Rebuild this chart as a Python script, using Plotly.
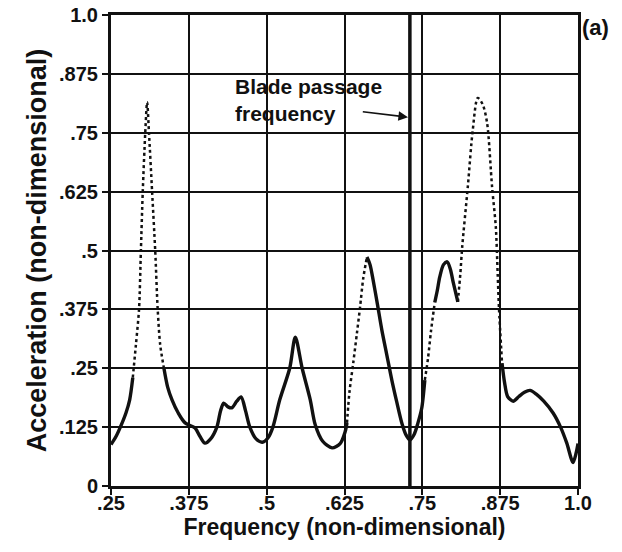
import plotly.graph_objects as go

# ---- data ----
# solid / dotted segments of the acceleration spectrum
seg_a_x = [0.250, 0.258, 0.265, 0.274, 0.280, 0.285]
seg_a_y = [0.088, 0.105, 0.125, 0.155, 0.183, 0.230]

seg_b_x = [0.285, 0.290, 0.295, 0.298, 0.301, 0.305, 0.308, 0.311, 0.316, 0.321, 0.325, 0.329, 0.335]
seg_b_y = [0.230, 0.300, 0.375, 0.500, 0.625, 0.750, 0.815, 0.750, 0.625, 0.500, 0.375, 0.300, 0.250]

seg_c_x = [0.335, 0.341, 0.348, 0.358, 0.369, 0.385, 0.393, 0.401, 0.410, 0.420, 0.426, 0.431,
           0.438, 0.444, 0.452, 0.459, 0.466, 0.473, 0.483, 0.493, 0.502, 0.510, 0.521, 0.537,
           0.546, 0.557, 0.570, 0.578, 0.590, 0.605, 0.618, 0.626, 0.629]
seg_c_y = [0.250, 0.210, 0.183, 0.155, 0.134, 0.123, 0.105, 0.091, 0.100, 0.125, 0.160, 0.176,
           0.168, 0.166, 0.180, 0.189, 0.160, 0.125, 0.100, 0.093, 0.102, 0.125, 0.183, 0.250,
           0.316, 0.250, 0.183, 0.130, 0.095, 0.081, 0.090, 0.115, 0.134]

seg_d_x = [0.629, 0.633, 0.639, 0.645, 0.650, 0.655, 0.661]
seg_d_y = [0.134, 0.200, 0.261, 0.325, 0.380, 0.440, 0.486]

seg_e_x = [0.661, 0.666, 0.671, 0.678, 0.685, 0.693, 0.701, 0.709, 0.717, 0.724, 0.730, 0.737,
           0.743, 0.749, 0.754]
seg_e_y = [0.486, 0.470, 0.437, 0.385, 0.331, 0.278, 0.225, 0.178, 0.134, 0.108, 0.098, 0.110,
           0.134, 0.165, 0.225]

seg_f_x = [0.754, 0.759, 0.764, 0.770]
seg_f_y = [0.225, 0.270, 0.330, 0.390]

seg_g_x = [0.770, 0.774, 0.778, 0.784, 0.790, 0.795, 0.800, 0.807]
seg_g_y = [0.390, 0.415, 0.444, 0.470, 0.476, 0.460, 0.430, 0.391]

seg_h_x = [0.807, 0.811, 0.814, 0.823, 0.831, 0.839, 0.847, 0.854, 0.862, 0.868, 0.871, 0.873, 0.878]
seg_h_y = [0.391, 0.450, 0.507, 0.635, 0.756, 0.824, 0.810, 0.771, 0.635, 0.550, 0.450, 0.380, 0.261]

seg_i_x = [0.878, 0.882, 0.887, 0.896, 0.905, 0.914, 0.923, 0.933, 0.945, 0.960, 0.972, 0.982,
           0.992, 0.997, 1.000]
seg_i_y = [0.261, 0.220, 0.190, 0.180, 0.190, 0.199, 0.203, 0.195, 0.180, 0.155, 0.125, 0.091,
           0.050, 0.070, 0.090]

blade_passage_freq = 0.730

x_tickvals = [0.25, 0.375, 0.5, 0.625, 0.75, 0.875, 1.0]
x_ticktext = [".25", ".375", ".5", ".625", ".75", ".875", "1.0"]
y_tickvals = [0, 0.125, 0.25, 0.375, 0.5, 0.625, 0.75, 0.875, 1.0]
y_ticktext = ["0", ".125", ".25", ".375", ".5", ".625", ".75", ".875", "1.0"]

# ---- figure ----
FONT = "Liberation Sans, Arial, Helvetica, sans-serif"
INK = "#111111"

segments = [
    (seg_a_x, seg_a_y, "solid"),
    (seg_b_x, seg_b_y, "dot"),
    (seg_c_x, seg_c_y, "solid"),
    (seg_d_x, seg_d_y, "dot"),
    (seg_e_x, seg_e_y, "solid"),
    (seg_f_x, seg_f_y, "dot"),
    (seg_g_x, seg_g_y, "solid"),
    (seg_h_x, seg_h_y, "dot"),
    (seg_i_x, seg_i_y, "solid"),
]

fig = go.Figure()
for xs, ys, style in segments:
    solid = style == "solid"
    fig.add_trace(go.Scatter(
        x=xs, y=ys, mode="lines",
        line=dict(color=INK, width=3.4 if solid else 2.5,
                  dash="solid" if solid else "3px,3px",
                  shape="spline", smoothing=0.8),
        showlegend=False, hoverinfo="skip",
    ))

# blade passage frequency marker line
fig.add_shape(type="line", xref="x", yref="y",
              x0=blade_passage_freq, x1=blade_passage_freq, y0=0, y1=1.0,
              line=dict(color=INK, width=3.5))

fig.add_annotation(x=0.446, y=0.820, xref="x", yref="y",
                   text="Blade passage<br>frequency", showarrow=False,
                   xanchor="left", yanchor="middle", align="left",
                   font=dict(family=FONT, size=21, color=INK, weight="bold"))
fig.add_annotation(x=blade_passage_freq - 0.003, y=0.783, xref="x", yref="y",
                   ax=0.652, ay=0.795, axref="x", ayref="y",
                   text="", showarrow=True, arrowhead=2, arrowsize=1.2,
                   arrowwidth=1.6, arrowcolor=INK)
fig.add_annotation(x=1.0, y=1.0, xref="paper", yref="paper",
                   text="(a)", showarrow=False, xanchor="left", yanchor="top",
                   xshift=2, yshift=2,
                   font=dict(family=FONT, size=22, color=INK, weight="bold"))

axis_common = dict(
    showgrid=True, gridcolor=INK, gridwidth=2,
    showline=True, linecolor=INK, linewidth=3, mirror=True,
    ticks="outside", ticklen=6, tickwidth=2, tickcolor=INK,
    zeroline=False, automargin=False,
    tickfont=dict(family=FONT, size=20, color=INK, weight="bold"),
)

fig.update_xaxes(range=[0.25, 1.0], tickvals=x_tickvals, ticktext=x_ticktext,
                 ticklabelstandoff=-9,
                 title=dict(text="Frequency (non-dimensional)", standoff=4,
                            font=dict(family=FONT, size=23, color=INK, weight="bold")),
                 **axis_common)
fig.update_yaxes(range=[0, 1.0], tickvals=y_tickvals, ticktext=y_ticktext,
                 title=dict(text="Acceleration (non-dimensional)", standoff=5,
                            font=dict(family=FONT, size=27, color=INK, weight="bold")),
                 **axis_common)

fig.update_layout(
    width=622, height=552,
    margin=dict(l=111, r=44, t=15, b=66),
    paper_bgcolor="white", plot_bgcolor="white",
    font=dict(family=FONT, color=INK),
)

fig.write_html("out.html", config={"displayModeBar": False},
               post_script="document.body.style.margin='0px';document.body.style.overflow='hidden';")
